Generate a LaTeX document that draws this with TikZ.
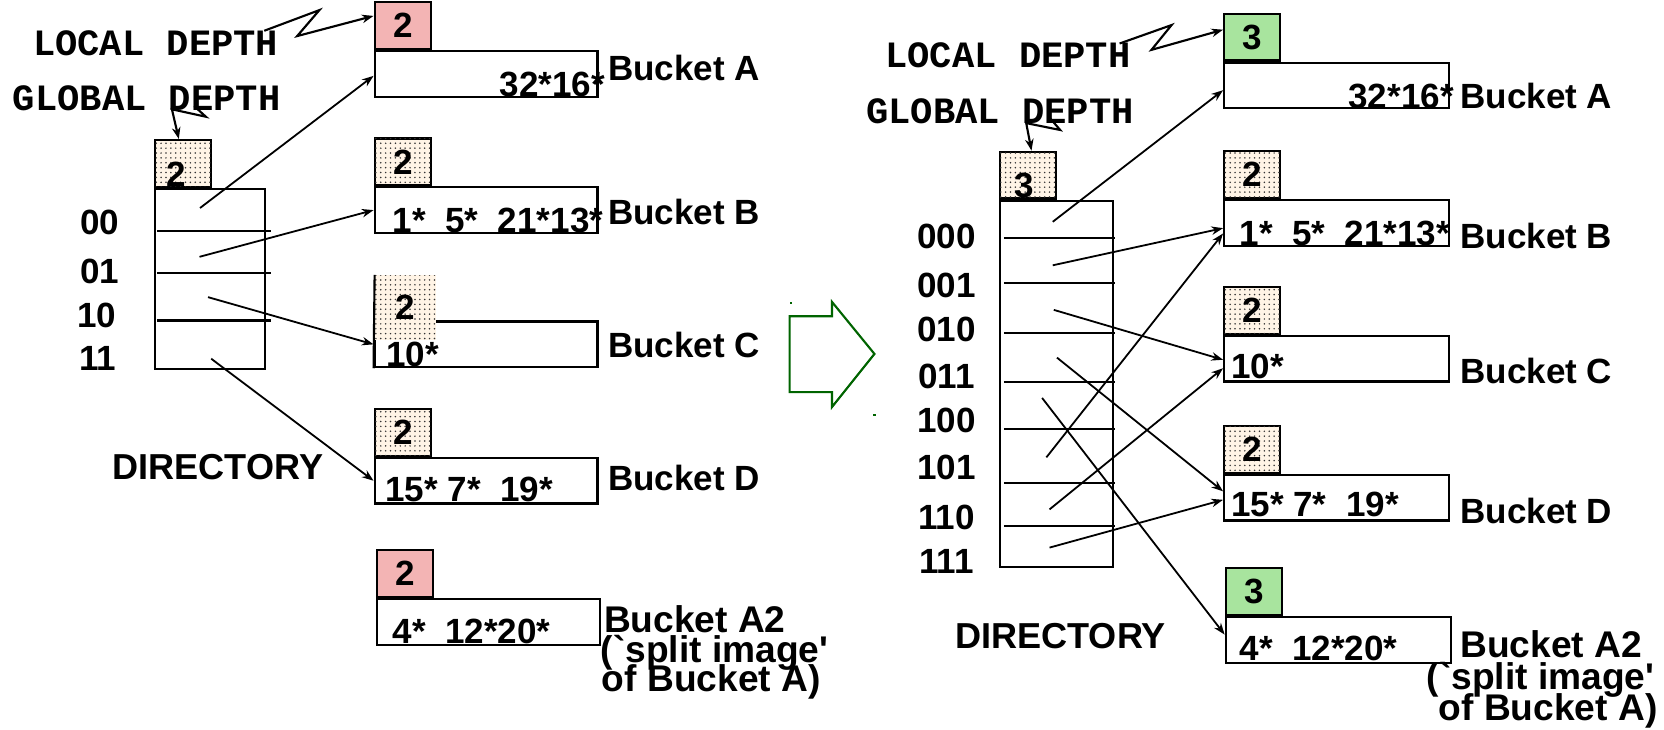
\documentclass[tikz,border=0pt]{standalone}
\usepackage{fontspec}
\setmainfont{Liberation Sans}[Ligatures=TeXOff]
\newfontfamily\depthfont{Liberation Mono}
\usetikzlibrary{arrows.meta,patterns.meta}

\definecolor{splitpink}{RGB}{243,180,180}
\definecolor{splitgreen}{RGB}{168,228,158}
\definecolor{sand}{RGB}{255,244,230}
\definecolor{stepgreen}{RGB}{0,100,0}

\tikzdeclarepattern{name=sanddots, type=uncolored,
  bounding box={(-1pt,-1pt) and (1pt,1pt)}, tile size={(4.6pt,4.6pt)},
  code={\fill (0pt,0pt) circle (0.8pt);}}

\tikzset{
  txt/.style={font=\bfseries\fontsize{33}{33}\selectfont, inner sep=0pt},
  bigtxt/.style={font=\bfseries\fontsize{35}{29}\selectfont, inner sep=0pt},
  dirtxt/.style={font=\bfseries\fontsize{34}{34}\selectfont, inner sep=0pt},
  mono/.style={font=\depthfont\bfseries\fontsize{35}{35}\selectfont, inner sep=0pt},
  depth/.style={txt, draw, line width=2pt, minimum width=53pt, minimum height=44pt},
  dotbox/.style={depth, fill=sand, postaction={pattern=sanddots, pattern color=black!80}},
  bucket/.style={draw, line width=2pt, minimum width=210pt, minimum height=43pt, inner sep=0pt},
  dir/.style={draw, line width=2pt, inner sep=0pt, anchor=north west},
  row/.style={line width=2pt},
  ptr/.style={-{Stealth[length=11pt,width=8pt]}, line width=1.7pt},
  zig/.style={-{Stealth[length=11pt,width=8pt]}, line width=2pt},
}

\begin{document}
\begin{tikzpicture}[x=1pt,y=-1pt]
\fill[white] (0,0) rectangle (1568,687);

%% ---- before the split: global depth 2
\node[mono, anchor=base west] (ldtxtL) at (31,52) {LOCAL DEPTH};
\node[mono, anchor=base west] (gdtxtL) at (12,104) {GLOBAL DEPTH};

\node[bucket] (aL) at (458,69.5) {};
\node[depth, fill=splitpink, anchor=south west] (ldaL) at (aL.north west) {2};
\node[bucket] (bL) at (458,198) {};
\node[dotbox, anchor=south west] (ldbL) at (bL.north west) {2};
\node[bucket] (cL) at (458,324.5) {};
\node[txt, fill=sand, postaction={pattern=sanddots, pattern color=black!80},
      minimum width=58pt, minimum height=61pt, anchor=north west] (ldcL) at (353,259) {2};
\draw[row] (ldcL.north west) -- (cL.south west);
\node[bucket] (dL) at (458,453) {};
\node[dotbox, anchor=south west] (lddL) at (dL.north west) {2};
\node[bucket] (a2L) at (460,586) {};
\node[depth, fill=splitpink, anchor=south west] (lda2L) at (a2L.north west) {2};

\node[txt, anchor=base east] (kaL) at (570,91) {32*16*};
\node[txt, anchor=base west] (kbL) at (370,219) {1*~~5*~~21*13*};
\node[txt, anchor=base west] (kcL) at (364,345) {10*};
\node[txt, anchor=base west] (kdL) at (363,473) {15*~7*~~19*};
\node[txt, anchor=base west] (ka2L) at (370,606) {4*~~12*20*};

\node[txt, anchor=base west] (naL) at (573,76) {Bucket A};
\node[txt, anchor=base west] (nbL) at (573,212) {Bucket B};
\node[txt, anchor=base west] (ncL) at (573,337) {Bucket C};
\node[txt, anchor=base west] (ndL) at (573,462) {Bucket D};
\node[bigtxt, anchor=base west] (na2L) at (569,596) {Bucket A2};
\node[bigtxt, anchor=base west] (na2Lb) at (566,624) {(`split image'};
\node[bigtxt, anchor=base west] (na2Lc) at (567,652) {of Bucket A)};

% directory
\node[dotbox, anchor=south west] (gdL) at (145,177) {};
\node[txt, anchor=base] (gdnL) at (166,176) {2};
\node[dir, minimum width=104pt, minimum height=170pt] (dirL) at (145,177) {};
\foreach \r in {218,257,302}
  \draw[row] (148,\r) -- (255,\r);
\foreach \t/\x/\r in {00/94/221,01/94/267,10/91/309,11/92/349}
  \node[txt, anchor=base] (s\t) at (\x,\r) {\t};
\node[dirtxt, anchor=base west] (dirnL) at (106,452) {DIRECTORY};

\coordinate (p00) at (188.5,196);
\coordinate (p01) at (188,242);
\coordinate (p10) at (196,280);
\coordinate (p11) at (199,338);
\draw[ptr] (p00) -- ([yshift=-2pt]aL.west);
\draw[ptr] (p01) -- (bL.west);
\draw[ptr] (p10) -- (cL.west);
\draw[ptr] (p11) -- (dL.west);

\draw[zig] (249,29) -- (301,9.5) -- (280,34) -- ([yshift=9pt]ldaL.west);
\draw[zig] (183,100) -- (194,110) -- (162,103) -- ([xshift=-4pt]gdL.north);

%% ---- the step
\draw[stepgreen, line width=2pt, line join=miter]
  (744,298) -- (784,298) -- (784,284.5) -- (824,333.5) -- (784,383.5)
  -- (784,369.5) -- (744,369.5) -- cycle;
\fill[stepgreen] (744,284.5) rectangle +(2,2);
\fill[stepgreen] (823,390) rectangle +(2,2);

%% ---- after the split: global depth 3
\node[mono, anchor=base west] (ldtxtR) at (834,64) {LOCAL DEPTH};
\node[mono, anchor=base west] (gdtxtR) at (816,116) {GLOBAL DEPTH};

\node[bucket, minimum width=212pt] (aR) at (1259.5,80.5) {};
\node[depth, fill=splitgreen, anchor=south west] (ldaR) at (aR.north west) {3};
\node[bucket, minimum width=212pt] (bR) at (1259.5,210) {};
\node[dotbox, anchor=south west] (ldbR) at (bR.north west) {2};
\node[bucket, minimum width=212pt] (cR) at (1259.5,338) {};
\node[dotbox, anchor=south west] (ldcR) at (cR.north west) {2};
\node[bucket, minimum width=212pt] (dR) at (1259.5,469) {};
\node[dotbox, anchor=south west] (lddR) at (dR.north west) {2};
\node[bucket, minimum width=212pt] (a2R) at (1261,603) {};
\node[depth, fill=splitgreen, anchor=south west] (lda2R) at (a2R.north west) {3};

\node[txt, anchor=base east] (kaR) at (1370,102) {32*16*};
\node[txt, anchor=base west] (kbR) at (1168,231) {1*~~5*~~21*13*};
\node[txt, anchor=base west] (kcR) at (1160,357) {10*};
\node[txt, anchor=base west] (kdR) at (1160,487) {15*~7*~~19*};
\node[txt, anchor=base west] (ka2R) at (1168,622) {4*~~12*20*};

\node[txt, anchor=base west] (naR) at (1376,102) {Bucket A};
\node[txt, anchor=base west] (nbR) at (1376,234) {Bucket B};
\node[txt, anchor=base west] (ncR) at (1376,361) {Bucket C};
\node[txt, anchor=base west] (ndR) at (1376,493) {Bucket D};
\node[bigtxt, anchor=base west] (na2R) at (1376,620) {Bucket A2};
\node[bigtxt, anchor=base east] (na2Rb) at (1559,650) {(`split image'};
\node[bigtxt, anchor=base east] (na2Rc) at (1562,679) {of Bucket A)};

% directory
\node[dotbox, anchor=south west] (gdR) at (941,188) {};
\node[txt, anchor=base] (gdnR) at (965.5,186) {3};
\node[dir, minimum width=107pt, minimum height=345pt] (dirR) at (941,188) {};
\foreach \r in {224,266.4,314,360,404.5,455,495.6}
  \draw[row] (946,\r) -- (1051,\r);
\foreach \t/\r in {000/234,001/280,010/322,011/366,100/408,101/452,110/499,111/540}
  \node[txt, anchor=base] (s\t) at (892,\r) {\t};
\node[dirtxt, anchor=base west] (dirnR) at (900,611) {DIRECTORY};

\coordinate (p000) at (992,209);
\coordinate (p001) at (992,250);
\coordinate (p010) at (993,292);
\coordinate (p011) at (996,337);
\coordinate (p100) at (982,375);
\coordinate (p101) at (986,431);
\coordinate (p110) at (989,480);
\coordinate (p111) at (989,516);
\draw[ptr] (p000) -- ([yshift=-4.5pt]aR.west);
\draw[ptr] (p001) -- ([yshift=-5pt]bR.west);
\draw[ptr] (p101) -- ([yshift=-10pt]bR.west);
\draw[ptr] (p010) -- ([yshift=-1pt]cR.west);
\draw[ptr] (p110) -- ([yshift=-9pt]cR.west);
\draw[ptr] (p011) -- ([yshift=6pt]dR.west);
\draw[ptr] (p111) -- ([yshift=-2pt]dR.west);
\draw[ptr] (p100) -- ([yshift=5pt]a2R.west);

\draw[zig] (1055,41) -- (1104,23.6) -- (1085,47) -- ([yshift=7pt]ldaR.west);
\draw[zig] (990,112) -- (999,122.5) -- (967,116) -- ([xshift=3.5pt]gdR.north);
\end{tikzpicture}
\end{document}
